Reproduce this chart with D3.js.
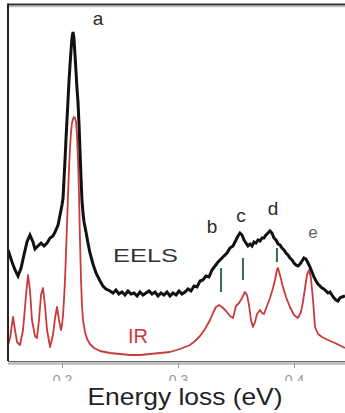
<!DOCTYPE html>
<html>
<head>
<meta charset="utf-8">
<script src="https://cdn.jsdelivr.net/npm/d3@7/dist/d3.min.js"></script>
<style>
  html, body { margin: 0; padding: 0; background: #fff; }
  svg { display: block; }
</style>
</head>
<body>
<svg id="chart" width="345" height="413"></svg>
<script>
// Energy-loss spectrum: EELS (black) and IR (red), energy in eV, intensity in arbitrary units.
const eelsSpectrum = [
  [0.1535,111],[0.1569,99],[0.1595,91],[0.1621,85],[0.1647,93],[0.1672,106],[0.1698,119],[0.1724,126],
  [0.1750,119],[0.1767,112],[0.1793,115],[0.1819,118],[0.1845,115],[0.1871,118],[0.1897,123],[0.1922,125],
  [0.1940,129],[0.1966,136],[0.1983,146],[0.2000,156],[0.2009,163],[0.2017,181],[0.2026,201],[0.2034,221],
  [0.2043,241],[0.2052,261],[0.2060,279],[0.2069,296],[0.2078,311],[0.2086,323],[0.2095,329],[0.2103,323],
  [0.2112,306],[0.2121,289],[0.2129,273],[0.2138,259],[0.2147,236],[0.2155,211],[0.2164,183],[0.2172,161],
  [0.2181,148],[0.2190,139],[0.2207,129],[0.2224,118],[0.2241,108],[0.2267,97],[0.2293,88],[0.2328,80],
  [0.2353,75],[0.2379,72],[0.2414,70],[0.2440,68],[0.2465,71],[0.2491,67],[0.2517,69],[0.2543,66],
  [0.2569,70],[0.2595,67],[0.2621,68],[0.2647,65],[0.2672,69],[0.2698,66],[0.2724,68],[0.2750,70],
  [0.2776,67],[0.2802,69],[0.2828,65],[0.2853,68],[0.2879,66],[0.2905,69],[0.2931,65],[0.2957,68],
  [0.2983,66],[0.3009,70],[0.3034,67],[0.3060,69],[0.3086,72],[0.3112,70],[0.3138,75],[0.3164,74],
  [0.3190,80],[0.3215,81],[0.3241,85],[0.3267,84],[0.3293,91],[0.3319,95],[0.3345,99],[0.3371,102],
  [0.3396,105],[0.3422,108],[0.3448,113],[0.3474,115],[0.3500,121],[0.3517,125],[0.3534,128],[0.3552,126],
  [0.3569,121],[0.3586,118],[0.3603,115],[0.3621,117],[0.3638,115],[0.3655,119],[0.3672,118],[0.3690,121],
  [0.3707,120],[0.3724,123],[0.3741,123],[0.3758,126],[0.3776,128],[0.3793,130],[0.3810,128],[0.3827,123],
  [0.3845,121],[0.3862,117],[0.3879,116],[0.3896,113],[0.3914,111],[0.3931,108],[0.3948,106],[0.3965,103],
  [0.3983,101],[0.4000,98],[0.4017,96],[0.4034,95],[0.4052,97],[0.4069,100],[0.4086,103],[0.4103,102],
  [0.4121,98],[0.4138,94],[0.4155,89],[0.4172,84],[0.4190,80],[0.4207,77],[0.4224,75],[0.4241,73],
  [0.4258,72],[0.4276,70],[0.4293,68],[0.4310,69],[0.4327,66],[0.4345,63],[0.4362,61],[0.4379,60],
  [0.4396,63],[0.4414,64],[0.4440,65]
];

const irSpectrum = [
  [0.1535,16],[0.1552,23],[0.1578,44],[0.1595,31],[0.1612,19],[0.1638,16],[0.1664,31],[0.1690,66],
  [0.1707,86],[0.1724,71],[0.1741,41],[0.1767,25],[0.1784,23],[0.1802,41],[0.1819,66],[0.1836,73],
  [0.1853,56],[0.1871,31],[0.1897,14],[0.1922,26],[0.1940,43],[0.1957,54],[0.1974,41],[0.1991,31],
  [0.2000,36],[0.2009,46],[0.2017,61],[0.2026,81],[0.2034,106],[0.2043,136],[0.2052,166],[0.2060,191],
  [0.2069,213],[0.2078,229],[0.2086,238],[0.2095,242],[0.2103,244],[0.2112,243],[0.2121,239],[0.2129,226],
  [0.2138,201],[0.2147,166],[0.2155,121],[0.2164,81],[0.2172,56],[0.2181,41],[0.2198,29],[0.2216,22],
  [0.2241,17],[0.2276,13],[0.2328,10],[0.2414,8],[0.2500,7],[0.2586,6],[0.2672,6],[0.2759,7],
  [0.2845,8],[0.2931,9],[0.3017,12],[0.3103,16],[0.3147,20],[0.3190,25],[0.3233,32],[0.3276,41],
  [0.3302,48],[0.3327,54],[0.3353,56],[0.3379,54],[0.3414,50],[0.3448,45],[0.3474,43],[0.3500,55],
  [0.3526,58],[0.3552,63],[0.3577,69],[0.3595,66],[0.3612,56],[0.3629,41],[0.3646,34],[0.3664,39],
  [0.3681,47],[0.3707,51],[0.3724,48],[0.3741,47],[0.3767,55],[0.3793,63],[0.3819,73],[0.3836,81],
  [0.3853,91],[0.3862,93],[0.3879,86],[0.3905,74],[0.3931,64],[0.3965,54],[0.4000,46],[0.4034,43],
  [0.4060,49],[0.4077,59],[0.4095,73],[0.4112,86],[0.4129,91],[0.4146,83],[0.4164,61],[0.4181,34],
  [0.4207,27],[0.4241,24],[0.4293,21],[0.4353,18],[0.4440,13]
];

// Band positions marked between the two spectra: [energy, lower, upper]
const bandMarkers = [
  [0.3371, 69, 93],
  [0.3560, 81, 103],
  [0.3853, 99, 113]
];

// Peak letters: [text, energy, intensity]
const peakLabels = [
  ["a", 0.2310, 336],
  ["b", 0.3293, 128],
  ["c", 0.3543, 139],
  ["d", 0.3819, 146],
  ["e", 0.4164, 123]
];

// Series names: [text, energy, intensity]
const seriesLabels = [
  ["EELS", 0.2440, 99],
  ["IR", 0.2569, 18]
];

const xTicks = [0.2, 0.3, 0.4];

const svg = d3.select("#chart");
const W = 345, H = 413;
const plotLeft = 8, plotTop = 4, plotBottom = 361, stripTop = 381;
const font = "Liberation Sans, Arial, sans-serif";

const x = d3.scaleLinear().domain([0.2, 0.4]).range([62, 294]);
const y = d3.scaleLinear().domain([0, 356]).range([plotBottom, plotBottom - 356]);

svg.append("rect").attr("width", W).attr("height", H).attr("fill", "#fff");

const defs = svg.append("defs");
defs.append("clipPath").attr("id", "plotClip")
  .append("rect").attr("x", plotLeft).attr("y", plotTop)
  .attr("width", W - plotLeft).attr("height", plotBottom - plotTop);
defs.append("clipPath").attr("id", "tickClip")
  .append("rect").attr("x", 0).attr("y", 0).attr("width", W).attr("height", stripTop - plotBottom);

const plot = svg.append("g").attr("clip-path", "url(#plotClip)");

const line = d3.line().x(d => x(d[0])).y(d => y(d[1]));

// IR spectrum
plot.append("path")
  .datum(irSpectrum)
  .attr("d", line)
  .attr("fill", "none")
  .attr("stroke", "#c93a3a")
  .attr("stroke-width", 1.8)
  .attr("stroke-linejoin", "round");

// EELS spectrum
plot.append("path")
  .datum(eelsSpectrum)
  .attr("d", line)
  .attr("fill", "none")
  .attr("stroke", "#111")
  .attr("stroke-width", 3)
  .attr("stroke-linejoin", "miter");

// Band markers
plot.selectAll("line.band")
  .data(bandMarkers)
  .join("line")
  .attr("class", "band")
  .attr("x1", d => x(d[0])).attr("x2", d => x(d[0]))
  .attr("y1", d => y(d[1])).attr("y2", d => y(d[2]))
  .attr("stroke", "#356b52")
  .attr("stroke-width", 2);

// Peak letters
svg.selectAll("text.peak")
  .data(peakLabels)
  .join("text")
  .attr("class", "peak")
  .attr("x", d => x(d[1]))
  .attr("y", d => y(d[2]))
  .attr("text-anchor", "middle")
  .attr("font-family", font)
  .attr("font-size", d => d[0] === "e" ? 17 : 19)
  .attr("fill", d => d[0] === "e" ? "#666" : "#2a2a2a")
  .text(d => d[0]);

// Series names
svg.selectAll("text.series")
  .data(seriesLabels)
  .join("text")
  .attr("class", "series")
  .attr("x", d => x(d[1]))
  .attr("y", d => y(d[2]))
  .attr("font-family", font)
  .attr("font-size", d => d[0] === "IR" ? 20 : 19)
  .attr("textLength", d => d[0] === "IR" ? null : 65)
  .attr("lengthAdjust", "spacingAndGlyphs")
  .attr("fill", d => d[0] === "IR" ? "#c93a3a" : "#333")
  .text(d => d[0]);

// Frame: top and left edges
svg.append("line").attr("x1", plotLeft).attr("x2", W).attr("y1", 6.5).attr("y2", 6.5)
  .attr("stroke", "#c4c4c4").attr("stroke-width", 1.5);
svg.append("line").attr("x1", plotLeft).attr("x2", W).attr("y1", 4.5).attr("y2", 4.5)
  .attr("stroke", "#333").attr("stroke-width", 2.2);
svg.append("line").attr("x1", plotLeft).attr("x2", plotLeft).attr("y1", 3.5).attr("y2", plotBottom)
  .attr("stroke", "#222").attr("stroke-width", 2);

// Bottom axis
svg.append("line").attr("x1", plotLeft).attr("x2", W)
  .attr("y1", plotBottom + 2.5).attr("y2", plotBottom + 2.5)
  .attr("stroke", "#b8b8b8").attr("stroke-width", 2.5);

const axis = svg.append("g")
  .attr("transform", `translate(0,${plotBottom})`)
  .attr("clip-path", "url(#tickClip)")
  .call(d3.axisBottom(x).tickValues(xTicks).tickSize(7).tickSizeOuter(0).tickFormat(d3.format(".1f")));
axis.select(".domain").remove();
axis.append("line").attr("x1", plotLeft).attr("x2", W).attr("y1", 0).attr("y2", 0)
  .attr("stroke", "#333").attr("stroke-width", 1.6);
axis.selectAll(".tick line").attr("stroke", "#999").attr("y1", 2);
axis.selectAll(".tick text")
  .attr("y", 14)
  .attr("fill", "#999")
  .attr("font-size", 14)
  .attr("font-family", font);

// Axis title on a white strip below the axis
svg.append("rect").attr("x", 0).attr("y", stripTop).attr("width", W).attr("height", H - stripTop).attr("fill", "#fff");
svg.append("text")
  .attr("x", 185).attr("y", 405)
  .attr("text-anchor", "middle")
  .attr("font-family", font)
  .attr("font-size", 24)
  .attr("textLength", 195)
  .attr("lengthAdjust", "spacingAndGlyphs")
  .attr("fill", "#222")
  .text("Energy loss (eV)");
</script>
</body>
</html>
